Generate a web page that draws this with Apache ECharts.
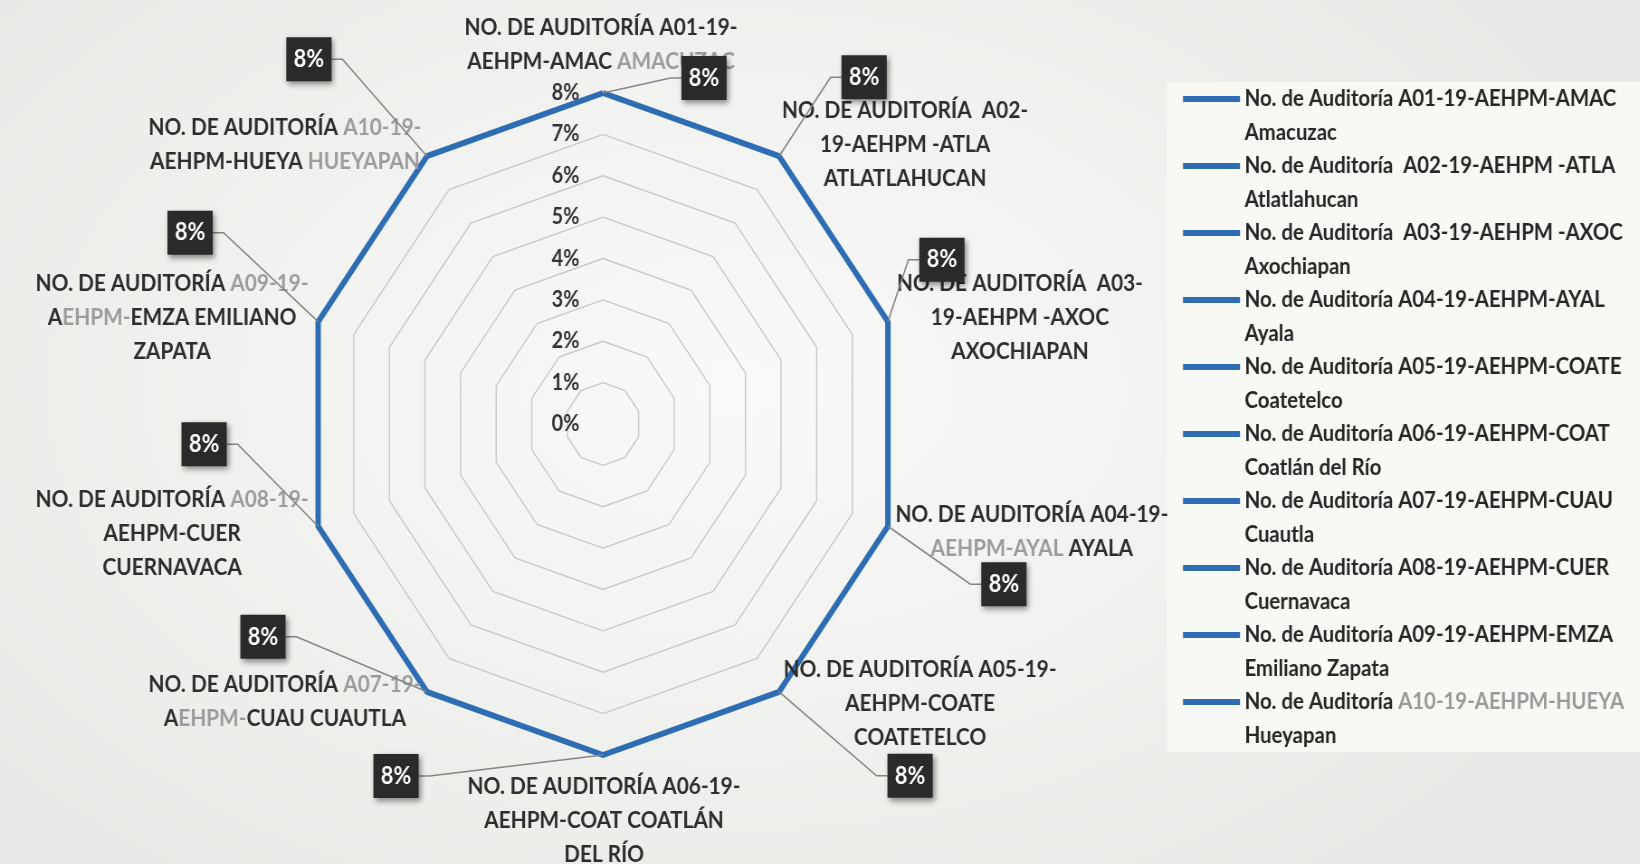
<!DOCTYPE html>
<html><head><meta charset="utf-8">
<script src="https://cdn.jsdelivr.net/npm/echarts/dist/echarts.min.js"></script>
<style>
html,body{margin:0;padding:0;width:1640px;height:864px;overflow:hidden;}
body{background: radial-gradient(ellipse 62% 75% at 45% 45%, #f9f9f7 0%, #f2f3f0 45%, #e6e9e5 100%);}
#wrap{position:absolute;left:0;top:0;width:1640px;height:864px;overflow:hidden;}
#chart{position:absolute;left:0;top:0;width:1812px;height:864px;transform:scaleX(0.905);transform-origin:0 0;}
</style></head><body>
<div id="wrap"><div id="chart"></div></div>
<script>
// ---- data ----
const indicatorNames = [
  "NO. DE AUDITORÍA A01-19-\nAEHPM-AMAC AMACUZAC",
  "NO. DE AUDITORÍA  A02-\n19-AEHPM -ATLA\nATLATLAHUCAN",
  "NO. DE AUDITORÍA  A03-\n19-AEHPM -AXOC\nAXOCHIAPAN",
  "NO. DE AUDITORÍA A04-19-\nAEHPM-AYAL AYALA",
  "NO. DE AUDITORÍA A05-19-\nAEHPM-COATE\nCOATETELCO",
  "NO. DE AUDITORÍA A06-19-\nAEHPM-COAT COATLÁN\nDEL RÍO",
  "NO. DE AUDITORÍA A07-19-\nAEHPM-CUAU CUAUTLA",
  "NO. DE AUDITORÍA A08-19-\nAEHPM-CUER\nCUERNAVACA",
  "NO. DE AUDITORÍA A09-19-\nAEHPM-EMZA EMILIANO\nZAPATA",
  "NO. DE AUDITORÍA A10-19-\nAEHPM-HUEYA HUEYAPAN"
];
const values = [8, 8, 8, 8, 8, 8, 8, 8, 8, 8];   // percent
const axisMax = 8;
const tickLabels = ["0%", "1%", "2%", "3%", "4%", "5%", "6%", "7%", "8%"];
const legendNames = [
  "No. de Auditoría A01-19-AEHPM-AMAC\nAmacuzac",
  "No. de Auditoría  A02-19-AEHPM -ATLA\nAtlatlahucan",
  "No. de Auditoría  A03-19-AEHPM -AXOC\nAxochiapan",
  "No. de Auditoría A04-19-AEHPM-AYAL\nAyala",
  "No. de Auditoría A05-19-AEHPM-COATE\nCoatetelco",
  "No. de Auditoría A06-19-AEHPM-COAT\nCoatlán del Río",
  "No. de Auditoría A07-19-AEHPM-CUAU\nCuautla",
  "No. de Auditoría A08-19-AEHPM-CUER\nCuernavaca",
  "No. de Auditoría A09-19-AEHPM-EMZA\nEmiliano Zapata",
  "No. de Auditoría A10-19-AEHPM-HUEYA\nHueyapan"
];

// ---- layout / style ----
const SX = 0.905;                 // horizontal squeeze of the scanned picture
const BLUE = '#2e6db4';
const FONT = 'Lato, "Open Sans", sans-serif';
const N = indicatorNames.length;
// ECharts radar runs counter-clockwise, the original runs clockwise
const order = indicatorNames.map((_, k) => (N - k) % N);     // position k -> original index
const posOf = i => (N - i) % N;                               // original index -> position
// label box offsets from vertex (picture px) and name offsets
const boxOff = [[101,-15],[85,-79],[54,-62],[116,58],[131,84],[-207,21],[-164,-55],[-114,-82],[-128,-89],[-118,-97]];
const nameOff = [[-2,-48],[126,-12],[132,-4],[144,5],[141,12],[1,66],[-142,10],[-146,7],[-146,-4],[-142,-12]];
const graySeg = [["AMACUZAC"],[],[],["AEHPM-AYAL"],[],[],["A07-19-","EHPM-"],["A08-19-"],["A09-19-","EHPM-"],["A10-19-","HUEYAPAN"]];
const legendGray = { 9: "A10-19-AEHPM-HUEYA" };

const chart = echarts.init(document.getElementById('chart'), null, {renderer: 'canvas'});
const CX = 603 / SX, CY = 424, R = 331;

const option = {
  backgroundColor: 'transparent',
  animation: false,
  radar: {
    center: [CX, CY],
    radius: R,
    startAngle: 90,
    shape: 'polygon',
    splitNumber: 8,
    indicator: order.map((i, k) => {
      const o = { name: indicatorNames[i], min: 0, max: axisMax };
      if (k === 0) o.axisLabel = { show: true, margin: 26, fontSize: 22, fontWeight: 'bold', fontFamily: FONT, color: '#333',
        formatter: v => tickLabels[Math.round(v)] };
      return o;
    }),
    axisName: { show: false },
    axisLine: { show: false },
    axisTick: { show: false },
    axisLabel: { show: false, margin: 26, fontSize: 22, fontWeight: 'bold', fontFamily: FONT, color: '#333',
      formatter: v => tickLabels[Math.round(v)] },
    splitLine: { lineStyle: { color: '#c8c8c8', width: 1.4 } },
    splitArea: { show: false }
  },
  legend: {
    orient: 'vertical',
    left: 1183 / SX,
    top: 82,
    padding: 0,
    itemGap: 0,
    itemWidth: 63,
    itemHeight: 67,
    icon: 'path://M0,0 L0.01,0 L0.01,0.01 Z M0,66.99 L0.01,66.99 L0.01,67 Z M0,14 L63,14 L63,20 L0,20 Z',
    selectedMode: false,
    data: legendNames,
    itemStyle: { borderWidth: 0 },
    formatter: name => {
      const idx = legendNames.indexOf(name);
      const g = legendGray[idx];
      return g ? name.replace(g, '{g|' + g + '}') : name;
    },
    textStyle: { fontFamily: FONT, fontSize: 22.5, fontWeight: 'bold', color: '#262626', lineHeight: 33.5,
      rich: { g: { fontFamily: FONT, fontSize: 22.5, fontWeight: 'bold', color: '#9a9a9a', lineHeight: 33.5 } } }
  },
  series: [
    {
      type: 'radar',
      name: 'Porcentaje',
      symbol: 'none',
      silent: true,
      z: 3,
      lineStyle: { color: BLUE, width: 6 },
      itemStyle: { color: BLUE },
      data: [{ name: 'Porcentaje', value: order.map(i => values[i]) }]
    }
  ].concat(legendNames.map(n => ({
    type: 'custom', name: n, coordinateSystem: 'none', color: BLUE,
    itemStyle: { color: BLUE }, data: [], renderItem: () => ({ type: 'group', children: [] })
  })))
};
chart.setOption(option);

// ---- annotations positioned from the radar coordinate system ----
let cs = null;
try { cs = chart.getModel().getComponent('radar', 0).coordinateSystem; } catch (e) { cs = null; }
function vertex(i) {
  const p = posOf(i);
  if (cs && cs.dataToPoint) return cs.dataToPoint(values[i], p);
  const ang = Math.PI / 2 + p * 2 * Math.PI / N;
  const r = R * values[i] / axisMax;
  return [CX + r * Math.cos(ang), CY - r * Math.sin(ang)];
}
function richName(i) {
  let s = indicatorNames[i];
  graySeg[i].forEach(g => { s = s.replace(g, '{g|' + g + '}'); });
  return s;
}
const graphics = [
  { type: 'rect', z: -5, silent: true, shape: { x: 1167 / SX, y: 82, width: 700, height: 670 },
    style: { fill: '#f8f8f5' } }
];
const HW = 25, HH = 22;
indicatorNames.forEach((nm, i) => {
  const v = vertex(i);
  // name text
  graphics.push({
    type: 'text', z: 5, silent: true,
    x: v[0] + nameOff[i][0] / SX, y: v[1] + nameOff[i][1],
    style: {
      text: richName(i), align: 'center', verticalAlign: 'middle',
      fontFamily: FONT, fontSize: 23, fontWeight: 'bold', fill: '#2d2d2d', lineHeight: 34,
      rich: { g: { fontFamily: FONT, fontSize: 23, fontWeight: 'bold', fill: '#9c9c9c', lineHeight: 34 } }
    }
  });
  // leader line + box
  const bx = v[0] + boxOff[i][0] / SX, by = v[1] + boxOff[i][1];
  const right = boxOff[i][0] > 0;
  const ax = right ? bx - HW : bx + HW;
  const ex = right ? ax - 12 : ax + 12;
  graphics.push({
    type: 'polyline', z: 6, silent: true,
    shape: { points: [[v[0], v[1]], [ex, by], [ax, by]] },
    style: { stroke: '#858585', lineWidth: 1.6, fill: null }
  });
  graphics.push({
    type: 'rect', z: 7, silent: true,
    shape: { x: bx - HW, y: by - HH, width: HW * 2, height: HH * 2 },
    style: { fill: '#2a2a2a', shadowBlur: 6, shadowColor: 'rgba(0,0,0,0.45)', shadowOffsetX: 2, shadowOffsetY: 3 }
  });
  graphics.push({
    type: 'text', z: 8, silent: true, x: bx, y: by,
    style: { text: values[i] + '%', align: 'center', verticalAlign: 'middle',
      fontFamily: FONT, fontSize: 24, fontWeight: 'bold', fill: '#ffffff' }
  });
});
chart.setOption({ graphic: graphics });
</script>
</body></html>
